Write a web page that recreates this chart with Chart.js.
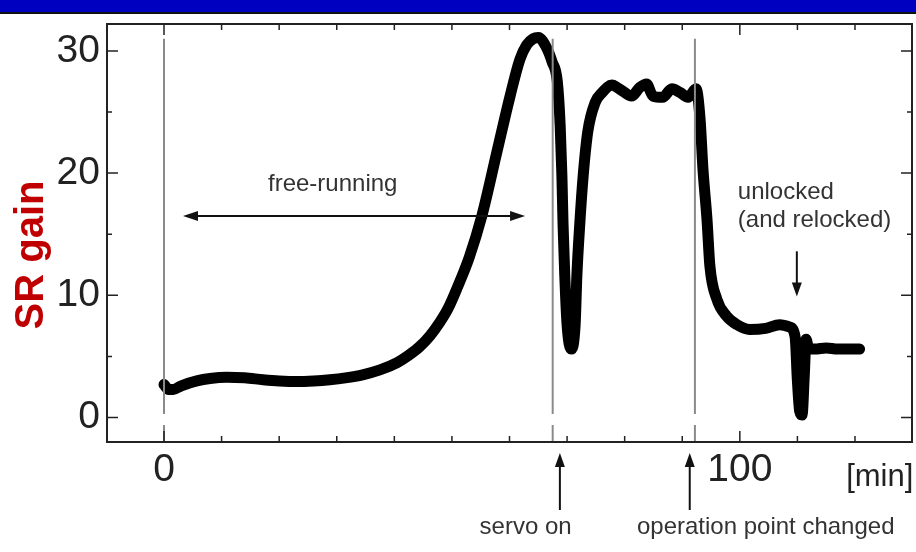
<!DOCTYPE html>
<html>
<head>
<meta charset="utf-8">
<script src="https://cdn.jsdelivr.net/npm/chart.js@4.4.1/dist/chart.umd.min.js"></script>
<style>
html, body { margin: 0; padding: 0; background: #fff; }
</style>
</head>
<body>
<canvas id="gainChart" width="916" height="552"></canvas>
<script>
// SR gain vs. time
var timeMin = [0, 0.8, 1.6, 3, 5.7, 8, 10.9, 14, 17.2, 20, 23.1, 26, 28.8, 31.5, 34.5, 37.5,
    40.5, 42.5, 44.4, 46.2, 47.9, 49.3, 50.9, 53, 55.2, 57.8, 60.1, 61.8, 63, 64.1, 65, 66.5,
    67.4, 68.3, 68.8, 69.1, 69.3, 69.6, 70.0, 70.7, 71.4, 71.7, 72.2, 72.8, 73.6, 74.9, 76.1,
    77.8, 78.7, 79.7, 81.2, 82.6, 83.8, 84.9, 86.6, 88.2, 89.6, 91.0, 92.4, 93.1, 93.6, 94.3,
    94.8, 96.0, 97.7, 99.5, 101.7, 104.5, 106.9, 108.7, 109.6, 110.0, 110.4, 110.8, 111.2,
    111.5, 112.0, 113, 115, 117, 119, 120.8];
var srGain = [2.7, 2.3, 2.3, 2.6, 3.0, 3.2, 3.3, 3.25, 3.1, 3.0, 2.95, 3.0, 3.1, 3.25, 3.5, 3.9,
    4.5, 5.1, 5.8, 6.7, 7.8, 8.9, 10.6, 13.1, 16.5, 21.7, 26.3, 29.3, 30.5, 31.0, 31.1, 30.2,
    29.1, 27.5, 23.9, 19.8, 15.8, 11.6, 7.6, 5.6, 7.6, 11.6, 15.8, 19.8, 23.4, 25.8, 26.6,
    27.2, 27.0, 26.7, 26.3, 27.0, 27.3, 26.3, 26.2, 26.9, 26.6, 26.2, 26.9, 24.4, 20.3, 16.2,
    12.4, 9.7, 8.3, 7.6, 7.2, 7.3, 7.6, 7.4, 6.6, 3.0, 0.5, 0.2, 3.5,
    6.4, 5.6, 5.6, 5.7, 5.6, 5.6, 5.6];

// gray vertical marker lines (start, servo on, operation point changed)
var markerTimes = [0, 67.5, 92.2];

var yTickLabels = [0, 10, 20, 30];
var yMinorTicks = [5, 15, 25];
var xTickLabels = [0, 100];
var xMinorTicks = [10, 20, 30, 40, 50, 60, 70, 80, 90, 110, 120];

var FONT = '"Liberation Sans", Arial, Helvetica, sans-serif';
var INK = '#222';

var gainPoints = timeMin.map(function (t, i) {
    return {x: t, y: srGain[i]};
});

var markerSets = markerTimes.map(function (t) {
    return {
        data: [{x: t, y: 31}, {x: t, y: 0.3}, {x: t, y: null}, {x: t, y: -0.6}, {x: t, y: -2.1}],
        borderColor: '#8a8a8a',
        borderWidth: 2,
        pointRadius: 0,
        spanGaps: false,
        tension: 0
    };
});

function arrow(ctx, x1, y1, x2, y2, len, hw) {
    var a = Math.atan2(y2 - y1, x2 - x1);
    ctx.beginPath();
    ctx.moveTo(x1, y1);
    ctx.lineTo(x2 - Math.cos(a) * len * 0.8, y2 - Math.sin(a) * len * 0.8);
    ctx.stroke();
    ctx.beginPath();
    ctx.moveTo(x2, y2);
    ctx.lineTo(x2 - Math.cos(a) * len - Math.sin(a) * hw, y2 - Math.sin(a) * len + Math.cos(a) * hw);
    ctx.lineTo(x2 - Math.cos(a) * len + Math.sin(a) * hw, y2 - Math.sin(a) * len - Math.cos(a) * hw);
    ctx.closePath();
    ctx.fill();
}

var decorPlugin = {
    id: 'decor',
    beforeDraw: function (chart) {
        var ctx = chart.ctx;
        ctx.save();
        ctx.fillStyle = '#0000c0';
        ctx.fillRect(0, 0, chart.width, 12);
        ctx.fillStyle = '#111';
        ctx.fillRect(0, 12, chart.width, 2);
        ctx.restore();
    },
    afterDraw: function (chart) {
        var ctx = chart.ctx,
            xs = chart.scales.x,
            ys = chart.scales.y,
            a = chart.chartArea;

        ctx.save();
        // frame
        ctx.strokeStyle = INK;
        ctx.lineWidth = 2;
        ctx.strokeRect(a.left, a.top, a.right - a.left, a.bottom - a.top);

        // inward ticks
        ctx.lineWidth = 1.5;
        ctx.beginPath();
        yTickLabels.concat(yMinorTicks).forEach(function (v) {
            var py = ys.getPixelForValue(v),
                l = yTickLabels.indexOf(v) >= 0 ? 11 : 5;
            ctx.moveTo(a.left, py); ctx.lineTo(a.left + l, py);
            ctx.moveTo(a.right, py); ctx.lineTo(a.right - l, py);
        });
        xTickLabels.concat(xMinorTicks).forEach(function (v) {
            var px = xs.getPixelForValue(v),
                l = xTickLabels.indexOf(v) >= 0 ? 11 : 6;
            ctx.moveTo(px, a.bottom); ctx.lineTo(px, a.bottom - l);
            ctx.moveTo(px, a.top); ctx.lineTo(px, a.top + l);
        });
        ctx.stroke();

        // annotations
        ctx.strokeStyle = '#111';
        ctx.fillStyle = '#111';
        ctx.lineWidth = 2;
        var fy = ys.getPixelForValue(16.5);
        arrow(ctx, xs.getPixelForValue(29), fy, xs.getPixelForValue(3.3), fy, 15, 5);
        arrow(ctx, xs.getPixelForValue(29), fy, xs.getPixelForValue(62.7), fy, 15, 5);
        var ux = xs.getPixelForValue(109.9);
        arrow(ctx, ux, ys.getPixelForValue(13.6), ux, ys.getPixelForValue(9.9), 14, 5);
        [68.75, 91.3].forEach(function (t) {
            var px = xs.getPixelForValue(t);
            arrow(ctx, px, a.bottom + 68, px, a.bottom + 11, 14, 5);
        });

        ctx.fillStyle = '#333';
        ctx.font = '24px ' + FONT;
        ctx.textAlign = 'center';
        ctx.textBaseline = 'middle';
        ctx.fillText('free-running', xs.getPixelForValue(29.3), ys.getPixelForValue(19.1));
        ctx.fillText('servo on', xs.getPixelForValue(62.8), a.bottom + 85);
        ctx.fillText('operation point changed', xs.getPixelForValue(104.5), a.bottom + 85);
        ctx.textAlign = 'left';
        ctx.fillText('unlocked', xs.getPixelForValue(99.65), ys.getPixelForValue(18.4));
        ctx.fillText('(and relocked)', xs.getPixelForValue(99.65), ys.getPixelForValue(16.1));

        ctx.fillStyle = INK;
        ctx.font = '31px ' + FONT;
        ctx.textAlign = 'center';
        ctx.fillText('[min]', xs.getPixelForValue(124.3), a.bottom + 35);

        // y axis title
        ctx.translate(43, ys.getPixelForValue(13.3));
        ctx.rotate(-Math.PI / 2);
        ctx.fillStyle = '#c00000';
        ctx.font = 'bold 40px ' + FONT;
        ctx.textBaseline = 'alphabetic';
        ctx.fillText('SR gain', 0, 0);
        ctx.restore();
    }
};

new Chart(document.getElementById('gainChart').getContext('2d'), {
    type: 'line',
    data: {
        datasets: markerSets.concat([{
            data: gainPoints,
            borderColor: '#000',
            borderWidth: 11,
            borderCapStyle: 'round',
            borderJoinStyle: 'round',
            pointRadius: 0,
            cubicInterpolationMode: 'monotone'
        }])
    },
    options: {
        responsive: false,
        animation: false,
        layout: {padding: {top: 24, right: 4, left: 0, bottom: 0}},
        plugins: {legend: {display: false}, tooltip: {enabled: false}},
        scales: {
            x: {
                type: 'linear',
                min: -9.9,
                max: 129.9,
                grid: {display: false, drawTicks: false},
                border: {display: false},
                afterBuildTicks: function (s) {
                    s.ticks = xTickLabels.map(function (v) { return {value: v}; });
                },
                afterFit: function (s) {
                    s.height = 110;
                    s.paddingLeft = 0;
                    s.paddingRight = 0;
                },
                ticks: {
                    padding: 5,
                    color: INK,
                    maxRotation: 0,
                    autoSkip: false,
                    font: {family: FONT, size: 39}
                }
            },
            y: {
                min: -2,
                max: 32.2,
                grid: {display: false, drawTicks: false},
                border: {display: false},
                afterBuildTicks: function (s) {
                    s.ticks = yTickLabels.map(function (v) { return {value: v}; });
                },
                afterFit: function (s) {
                    s.width = 107;
                    s.paddingTop = 0;
                    s.paddingBottom = 0;
                },
                ticks: {
                    padding: 7,
                    color: INK,
                    font: {family: FONT, size: 39}
                }
            }
        }
    },
    plugins: [decorPlugin]
});
</script>
</body>
</html>
